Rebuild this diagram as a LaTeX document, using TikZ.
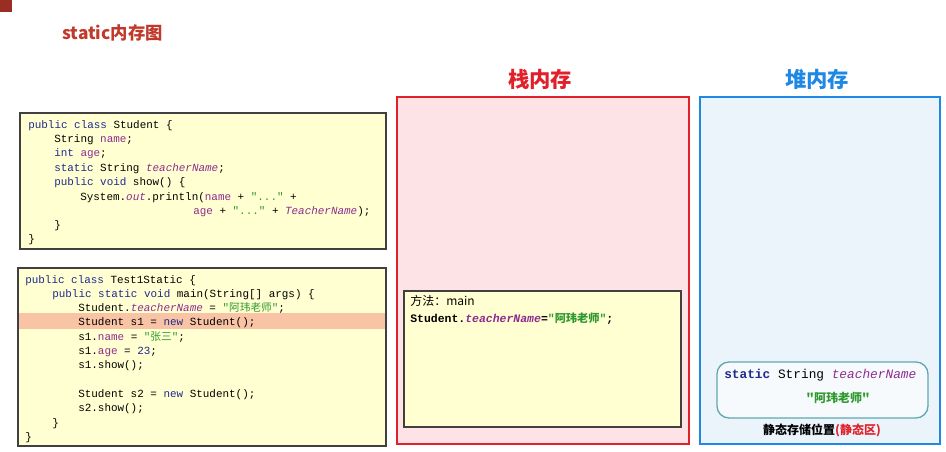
\documentclass[tikz,border=0pt]{standalone}
\usepackage{fontspec}
\setmonofont{Liberation Mono}
\newfontfamily\cjk{Noto Sans CJK SC}
\definecolor{kwblue}{HTML}{1F2A8C}
\definecolor{fldpurple}{HTML}{8E2C8E}
\definecolor{strgreen}{HTML}{2E9A2E}
\definecolor{codebg}{HTML}{FFFFD2}
\definecolor{hlrow}{HTML}{F9C3A6}
\definecolor{stackred}{HTML}{E0202A}
\definecolor{stackbg}{HTML}{FDE3E6}
\definecolor{heapblue}{HTML}{1E88E5}
\definecolor{heapbg}{HTML}{EBF3FB}
\definecolor{teal}{HTML}{5FA8B0}
\definecolor{titlered}{HTML}{C0392B}
\newcommand{\kw}[1]{\textcolor{kwblue}{#1}}
\newcommand{\fld}[1]{\textcolor{fldpurple}{#1}}
\newcommand{\str}[1]{\textcolor{strgreen}{#1}}
\newcommand{\zh}[1]{{\cjk\fontsize{8}{9}\selectfont #1}}
\begin{document}
\begin{tikzpicture}[x=0.75pt,y=-0.75pt,
  codeline/.style={anchor=base west,inner sep=0pt,font=\ttfamily\fontsize{8.2}{9}\selectfont},
  codebox/.style={draw=black!75,fill=codebg,line width=0.8pt},
  title/.style={font=\cjk\bfseries\fontsize{16}{19}\selectfont}]
\useasboundingbox (0,0) rectangle (946,451);
\fill[titlered!80!black] (0,0) rectangle (12,12);
\node[anchor=base west,inner sep=0pt,text=titlered,font=\cjk\bfseries\fontsize{13}{15}\selectfont] (heading) at (62,39) {static内存图};
% code boxes
\draw[codebox] (20,113) rectangle (386,249);
\draw[codebox] (18,268) rectangle (386,446);
\fill[hlrow] (19,313) rectangle (385,329);
\node[codeline] (s1) at (28,128) {\kw{public} \kw{class} Student \{};
\node[codeline] (s2) at (54,142) {String \fld{name};};
\node[codeline] (s3) at (54,156) {\kw{int} \fld{age};};
\node[codeline] (s4) at (54,171) {\kw{static} String \fld{\itshape teacherName};};
\node[codeline] (s5) at (54,185) {\kw{public} \kw{void} show() \{};
\node[codeline] (s6) at (80,200) {System.\fld{\itshape out}.println(\fld{name} + \str{"..."} +};
\node[codeline] (s7) at (193,214) {\fld{age} + \str{"..."} + \fld{\itshape TeacherName});};
\node[codeline] (s8) at (54,228) {\}};
\node[codeline] (s9) at (28,242) {\}};
\node[codeline] (t1) at (25,283) {\kw{public} \kw{class} Test1Static \{};
\node[codeline] (t2) at (52,297) {\kw{public} \kw{static} \kw{void} main(String[] args) \{};
\node[codeline] (t3) at (78,311) {Student.\fld{\itshape teacherName} = \str{"\zh{阿玮老师}"};};
\node[codeline] (t4) at (78,325) {Student s1 = \kw{new} Student();};
\node[codeline] (t5) at (78,340) {s1.\fld{name} = \str{"\zh{张三}"};};
\node[codeline] (t6) at (78,354) {s1.\fld{age} = \kw{23};};
\node[codeline] (t7) at (78,368) {s1.show();};
\node[codeline] (t8) at (78,397) {Student s2 = \kw{new} Student();};
\node[codeline] (t9) at (78,411) {s2.show();};
\node[codeline] (t10) at (52,426) {\}};
\node[codeline] (t11) at (25,440) {\}};
% stack
\draw[stackred,fill=stackbg,line width=1.6pt] (397,97) rectangle (689,444);
\node[title,text=stackred] (stacktitle) at (540,79) {栈内存};
\draw[codebox] (404,291) rectangle (681,427);
\node[anchor=base west,inner sep=0pt,font=\cjk\fontsize{9}{11}\selectfont] (method) at (410,305) {方法：main};
\node[codeline,font=\ttfamily\bfseries\fontsize{8.6}{10}\selectfont] (assign) at (410,322)
  {Student.\fld{\itshape teacherName}=\str{"{\cjk\bfseries\fontsize{8.4}{9}\selectfont 阿玮老师}"};};
% heap
\draw[heapblue,fill=heapbg,line width=1.6pt] (700,97) rectangle (940,444);
\node[title,text=heapblue] (heaptitle) at (817,79) {堆内存};
\draw[teal,fill=white!60!heapbg,line width=1pt,rounded corners=9pt] (717,362) rectangle (928,418);
\node[codeline,font=\ttfamily\fontsize{9.6}{11}\selectfont] (staticvar) at (724,378)
  {\kw{\bfseries static} String \fld{\itshape teacherName}};
\node[font=\cjk\bfseries\fontsize{9}{11}\selectfont,text=strgreen] (staticval) at (838,398) {"阿玮老师"};
\node[font=\cjk\bfseries\fontsize{9}{11}\selectfont] (staticarea) at (822,430) {静态存储位置\textcolor{stackred}{(静态区)}};
\end{tikzpicture}
\end{document}
